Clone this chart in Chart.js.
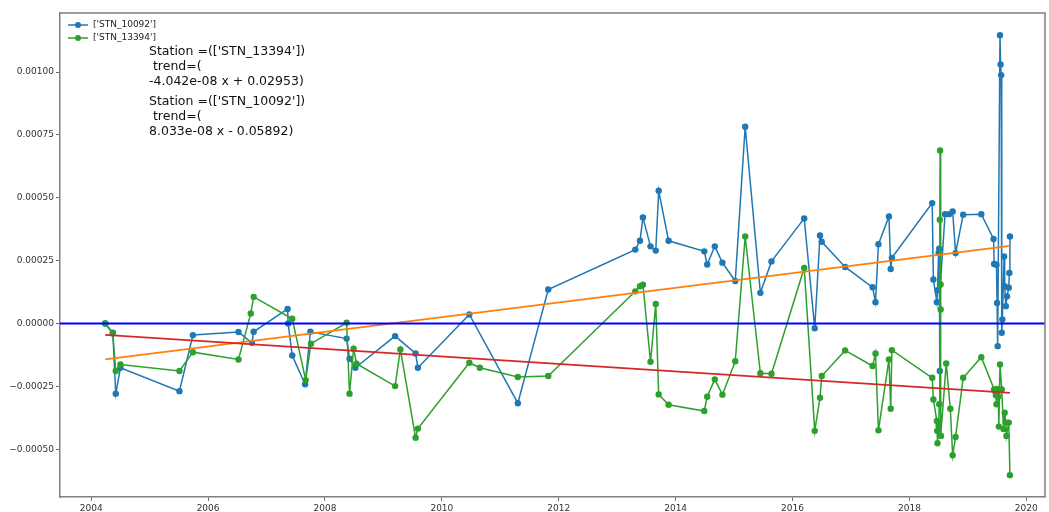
<!DOCTYPE html>
<html>
<head>
<meta charset="utf-8">
<script src="https://cdn.jsdelivr.net/npm/chart.js@4/dist/chart.umd.min.js"></script>
<style>
  html, body { margin: 0; padding: 0; background: #ffffff; }
  #wrap { width: 1049px; height: 512px; }
</style>
</head>
<body>
<div id="wrap"><canvas id="c" width="1049" height="512"></canvas></div>
<script>
// Station STN_10092 (decimal year, value)
const stn10092Years = [
  2004.24, 2004.37, 2004.42, 2004.50, 2005.51, 2005.74, 2006.52, 2006.75, 2006.78,
  2007.36, 2007.37, 2007.44, 2007.66, 2007.75, 2008.37, 2008.42, 2008.52,
  2009.20, 2009.55, 2009.59, 2010.47, 2011.30, 2011.82,
  2013.31, 2013.39, 2013.44, 2013.57, 2013.66, 2013.71, 2013.88,
  2014.49, 2014.54, 2014.67, 2014.80, 2015.02, 2015.19, 2015.45, 2015.64,
  2016.20, 2016.38, 2016.47, 2016.50, 2016.90, 2017.37, 2017.42, 2017.47,
  2017.65, 2017.68, 2017.70, 2018.39, 2018.41, 2018.47, 2018.48, 2018.50,
  2018.51, 2018.52, 2018.53, 2018.61, 2018.68, 2018.74, 2018.79, 2018.92,
  2019.23, 2019.44, 2019.45, 2019.49, 2019.50, 2019.51, 2019.55, 2019.56,
  2019.57, 2019.58, 2019.59, 2019.62, 2019.63, 2019.65, 2019.67, 2019.70,
  2019.71, 2019.72
];
const stn10092Values = [
  0.0, -0.000037, -0.000279, -0.000176, -0.000269, -0.000046, -0.000034, -0.000077, -0.000033,
  0.000058, 0.0, -0.000127, -0.000242, -0.000033, -0.00006, -0.00014, -0.000176,
  -0.00005, -0.000119, -0.000176, 0.000036, -0.000317, 0.000135,
  0.000294, 0.000329, 0.000422, 0.000307, 0.00029, 0.000528, 0.000329,
  0.000287, 0.000235, 0.000307, 0.000242, 0.000169, 0.000783, 0.000122, 0.000247,
  0.000418, -0.000019, 0.00035, 0.000325, 0.000225, 0.000144, 0.000085, 0.000315,
  0.000426, 0.000217, 0.000261, 0.000479, 0.000175, 0.000085, 0.000132, 0.00028,
  0.000298, -0.000189, 0.000155, 0.000435, 0.000435, 0.000446, 0.00028, 0.000433,
  0.000435, 0.000336, 0.000237, 0.000234, 0.000082, -0.00009, 0.001147, 0.00103,
  0.000988, -0.000037, 0.000016, 0.000267, 0.000148, 0.000069, 0.000108, 0.000142,
  0.000201, 0.000346
];

// Station STN_13394 (decimal year, value)
const stn13394Years = [
  2004.24, 2004.37, 2004.42, 2004.50, 2005.51, 2005.74, 2006.52, 2006.73, 2006.78,
  2007.44, 2007.67, 2007.76, 2008.37, 2008.42, 2008.49, 2008.54,
  2009.20, 2009.29, 2009.55, 2009.59, 2010.47, 2010.65, 2011.30, 2011.82,
  2013.31, 2013.39, 2013.44, 2013.57, 2013.66, 2013.71, 2013.88,
  2014.49, 2014.54, 2014.67, 2014.80, 2015.02, 2015.19, 2015.45, 2015.64,
  2016.20, 2016.38, 2016.47, 2016.50, 2016.90, 2017.37, 2017.42, 2017.47,
  2017.65, 2017.68, 2017.70, 2018.39, 2018.41, 2018.47, 2018.475, 2018.48,
  2018.50, 2018.51, 2018.52, 2018.525, 2018.53, 2018.535, 2018.54, 2018.63,
  2018.70, 2018.74, 2018.79, 2018.92, 2019.23, 2019.45, 2019.47, 2019.48,
  2019.49, 2019.50, 2019.52, 2019.53, 2019.55, 2019.58, 2019.61, 2019.63,
  2019.65, 2019.66, 2019.70, 2019.72
];
const stn13394Values = [
  0.0, -0.00004, -0.000189, -0.000163, -0.000189, -0.000114, -0.000143, 0.00004, 0.000106,
  0.000019, -0.000225, -0.00008, 0.000003, -0.000279, -0.0001, -0.00016,
  -0.000249, -0.000103, -0.000454, -0.000418, -0.000156, -0.000176, -0.000213, -0.000209,
  0.000128, 0.000148, 0.000154, -0.000152, 0.000078, -0.000282, -0.000323,
  -0.000348, -0.000291, -0.000222, -0.000283, -0.00015, 0.000346, -0.000198, -0.0002,
  0.000221, -0.000427, -0.000295, -0.000209, -0.000107, -0.000169, -0.000119, -0.000425,
  -0.000143, -0.000339, -0.000106, -0.000216, -0.000302, -0.000388, -0.000427, -0.000476,
  -0.000407, -0.000321, 0.000413, 0.000688, 0.000155, 0.000056, -0.000447, -0.000159,
  -0.000339, -0.000524, -0.000451, -0.000216, -0.000134, -0.000262, -0.00027, -0.000285,
  -0.000321, -0.00026, -0.00029, -0.00041, -0.000163, -0.000262, -0.00042, -0.000355,
  -0.000394, -0.000447, -0.000394, -0.000603
];

// Linear trend end points for each station
const trendYears = [2004.24, 2019.72];
const trend10092 = [-0.000143, 0.000309];
const trend13394 = [-0.000045, -0.000276];

// Axis ticks
const xTicks = [2004, 2006, 2008, 2010, 2012, 2014, 2016, 2018, 2020];
const yTicks = [-0.0005, -0.00025, 0.0, 0.00025, 0.0005, 0.00075, 0.001];

const seriesLabels = ["['STN_10092']", "['STN_13394']"];
const noteLines = [
  ["Station =(['STN_13394'])", " trend=(", "-4.042e-08 x + 0.02953)"],
  ["Station =(['STN_10092'])", " trend=(", "8.033e-08 x - 0.05892)"]
];

const X_MIN = 2003.466, X_MAX = 2020.32;
const Y_MIN = -0.00069, Y_MAX = 0.001235;

const C_BLUE = '#1f77b4', C_GREEN = '#2ca02c', C_ORANGE = '#ff7f0e', C_RED = '#d62728';
const SPINE = '#808080';

const pts = (xs, ys) => xs.map((x, i) => ({ x: x, y: ys[i] }));

function fmtY(v) {
  const s = Math.abs(v).toFixed(5);
  return (v < -1e-12 ? '\u2212' : '') + s;
}

// frame, legend and trend notes drawn inside the plot area
const overlay = {
  id: 'overlay',
  afterDraw(chart) {
    const { ctx, chartArea: a } = chart;
    ctx.save();
    // top / right spines
    ctx.strokeStyle = SPINE;
    ctx.lineWidth = 1.5;
    ctx.beginPath();
    ctx.moveTo(a.left, a.top);
    ctx.lineTo(a.right, a.top);
    ctx.lineTo(a.right, a.bottom);
    ctx.stroke();

    // legend
    const colors = [C_BLUE, C_GREEN];
    ctx.font = '9px "DejaVu Sans"';
    ctx.textBaseline = 'middle';
    ctx.textAlign = 'left';
    seriesLabels.forEach((lab, i) => {
      const y = 25 + i * 13;
      ctx.strokeStyle = colors[i];
      ctx.lineWidth = 1.5;
      ctx.beginPath();
      ctx.moveTo(68, y);
      ctx.lineTo(88, y);
      ctx.stroke();
      ctx.fillStyle = colors[i];
      ctx.beginPath();
      ctx.arc(78, y, 3, 0, Math.PI * 2);
      ctx.fill();
      ctx.fillStyle = '#222';
      ctx.fillText(lab, 93, y);
    });

    // trend notes
    ctx.font = '12.5px "DejaVu Sans"';
    ctx.fillStyle = '#111';
    const blockTop = [52, 102];
    noteLines.forEach((lines, b) => {
      lines.forEach((t, j) => {
        ctx.fillText(t, 149, blockTop[b] + j * 14.7);
      });
    });
    ctx.restore();
  }
};

const tickFont = { family: '"DejaVu Sans"', size: 9 };

new Chart(document.getElementById('c'), {
  type: 'line',
  data: {
    datasets: [
      {
        label: 'zero',
        data: [{ x: X_MIN, y: 0 }, { x: X_MAX, y: 0 }],
        borderColor: '#0000ff', borderWidth: 2, pointRadius: 0, order: 0
      },
      {
        label: 'trend 13394',
        data: pts(trendYears, trend13394),
        borderColor: C_RED, borderWidth: 1.8, pointRadius: 0, order: 1
      },
      {
        label: 'trend 10092',
        data: pts(trendYears, trend10092),
        borderColor: C_ORANGE, borderWidth: 1.8, pointRadius: 0, order: 2
      },
      {
        label: seriesLabels[1],
        data: pts(stn13394Years, stn13394Values),
        borderColor: C_GREEN, backgroundColor: C_GREEN,
        borderWidth: 1.5, pointRadius: 3.2, pointBorderWidth: 0, order: 3
      },
      {
        label: seriesLabels[0],
        data: pts(stn10092Years, stn10092Values),
        borderColor: C_BLUE, backgroundColor: C_BLUE,
        borderWidth: 1.5, pointRadius: 3.2, pointBorderWidth: 0, order: 4
      }
    ]
  },
  options: {
    responsive: false,
    animation: false,
    devicePixelRatio: 1,
    parsing: true,
    layout: { padding: { top: 13, right: 2, left: 0, bottom: 0 } },
    plugins: { legend: { display: false }, tooltip: { enabled: false } },
    elements: { line: { tension: 0 } },
    scales: {
      x: {
        type: 'linear', min: X_MIN, max: X_MAX,
        afterBuildTicks: s => { s.ticks = xTicks.map(v => ({ value: v })); },
        afterFit: s => { s.height = 15; },
        ticks: { font: tickFont, color: '#333', padding: 2, maxRotation: 0, autoSkip: false, callback: v => String(v) },
        grid: { drawOnChartArea: false, drawTicks: true, tickLength: 4, color: '#666' },
        border: { color: SPINE, width: 1.5 }
      },
      y: {
        type: 'linear', min: Y_MIN, max: Y_MAX,
        afterBuildTicks: s => { s.ticks = yTicks.map(v => ({ value: v })); },
        afterFit: s => { s.width = 60; },
        ticks: { font: tickFont, color: '#333', padding: 2, autoSkip: false, callback: v => fmtY(v) },
        grid: { drawOnChartArea: false, drawTicks: true, tickLength: 4, color: '#666' },
        border: { color: SPINE, width: 1.5 }
      }
    }
  },
  plugins: [overlay]
});
</script>
</body>
</html>
